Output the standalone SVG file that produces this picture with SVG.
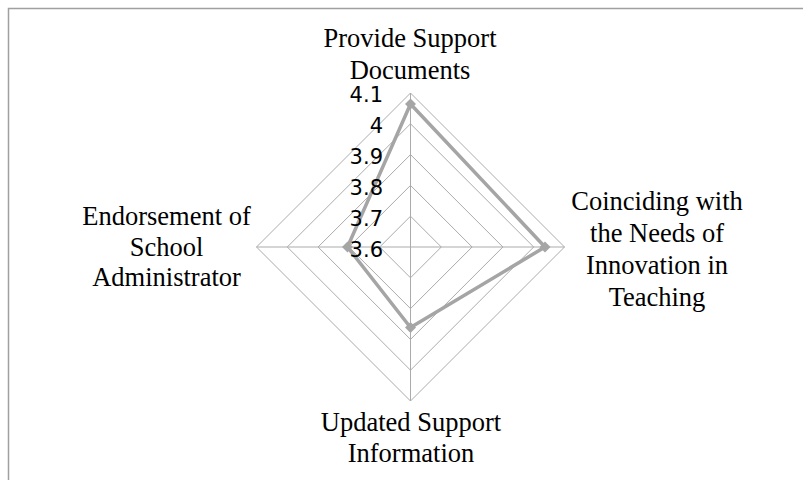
<svg xmlns="http://www.w3.org/2000/svg" width="803" height="480" viewBox="0 0 803 480">
<style>
.grid{fill:none;stroke:#ABABAB;stroke-width:1}
.axis{stroke:#ABABAB;stroke-width:1}
.series{fill:none;stroke:#A5A5A5;stroke-width:3.5;stroke-linejoin:round}
.mk{fill:#A5A5A5}
.cat{font-family:"Liberation Serif","Times New Roman",serif;font-size:26.5px;fill:#000;text-anchor:middle}
.tick{font-family:"DejaVu Sans","Liberation Sans",sans-serif;font-size:21px;fill:#000;text-anchor:end}
</style>
<defs>
<path id="dia" d="M0,-5.5 L5.5,0 L0,5.5 L-5.5,0 Z" class="mk"/>
</defs>
<rect x="0" y="0" width="803" height="480" fill="#fff"/>
<rect x="8.5" y="8.5" width="820" height="500" fill="none" stroke="#A0A0A0" stroke-width="1.5"/>
<g id="grid">
<polygon class="grid" points="410.5,93 564.5,247 410.5,401 256.5,247"/>
<polygon class="grid" points="410.5,123.8 533.7,247 410.5,370.2 287.3,247"/>
<polygon class="grid" points="410.5,154.6 502.9,247 410.5,339.4 318.1,247"/>
<polygon class="grid" points="410.5,185.4 472.1,247 410.5,308.6 348.9,247"/>
<polygon class="grid" points="410.5,216.2 441.3,247 410.5,277.8 379.7,247"/>
<line class="axis" x1="410.5" y1="247" x2="410.5" y2="93"/>
<line class="axis" x1="410.5" y1="247" x2="564.5" y2="247"/>
<line class="axis" x1="410.5" y1="247" x2="410.5" y2="401"/>
<line class="axis" x1="410.5" y1="247" x2="256.5" y2="247"/>
</g>
<g id="series">
<polygon class="series" points="410.5,104 545,247 410.5,327.5 347.5,247"/>
<use href="#dia" x="410.5" y="104"/>
<use href="#dia" x="545" y="247"/>
<use href="#dia" x="410.5" y="327.5"/>
<use href="#dia" x="347.5" y="247"/>
</g>
<g id="ticks">
<text class="tick" x="383" y="101.5">4.1</text>
<text class="tick" x="383" y="132.5">4</text>
<text class="tick" x="383" y="163.5">3.9</text>
<text class="tick" x="383" y="194.5">3.8</text>
<text class="tick" x="383" y="225.5">3.7</text>
<text class="tick" x="383" y="256.5">3.6</text>
</g>
<g id="label-top">
<text class="cat" x="410" y="47">Provide Support</text>
<text class="cat" x="410" y="78.5">Documents</text>
</g>
<g id="label-right">
<text class="cat" x="657" y="210">Coinciding with</text>
<text class="cat" x="657" y="242">the Needs of</text>
<text class="cat" x="657" y="274">Innovation in</text>
<text class="cat" x="657" y="305.5">Teaching</text>
</g>
<g id="label-bottom">
<text class="cat" x="411" y="431">Updated Support</text>
<text class="cat" x="411" y="462">Information</text>
</g>
<g id="label-left">
<text class="cat" x="166.5" y="225">Endorsement of</text>
<text class="cat" x="166.5" y="255.5">School</text>
<text class="cat" x="166.5" y="286">Administrator</text>
</g>
</svg>
